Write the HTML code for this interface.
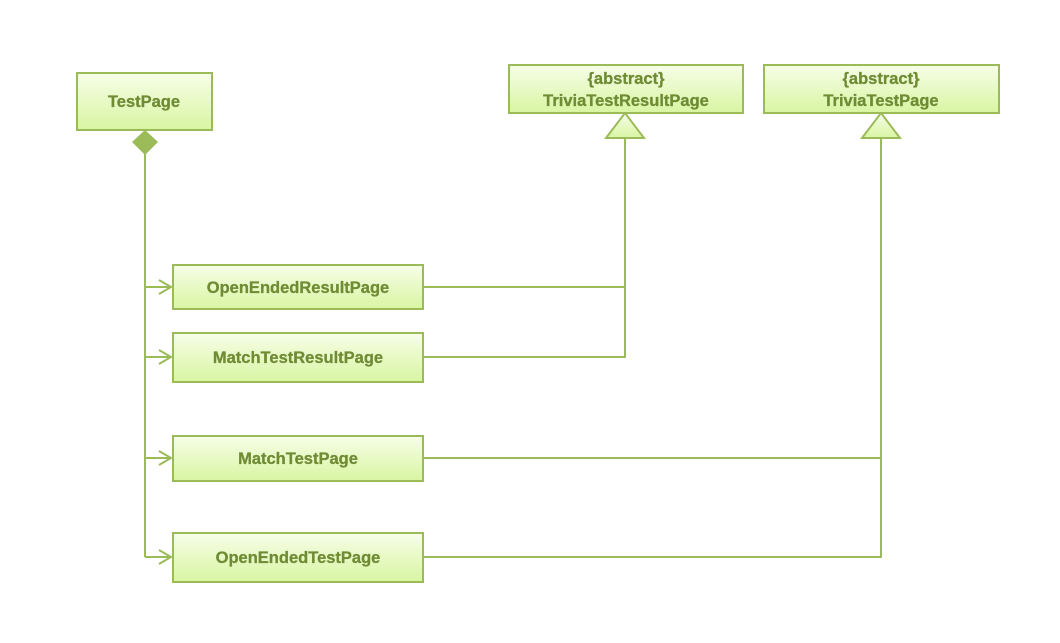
<!DOCTYPE html>
<html><head><style>
body{margin:0;background:#fff;}
svg text{font-family:"Liberation Sans",sans-serif;font-weight:bold;fill:#6f8c35;text-anchor:middle;}
</style></head><body>
<svg width="1060" height="638" xmlns="http://www.w3.org/2000/svg">
<defs>
<linearGradient id="g" x1="0" y1="0" x2="0" y2="1">
<stop offset="0" stop-color="#f7fee8"/><stop offset="1" stop-color="#d8f5a2"/>
</linearGradient>
</defs>
<g stroke="#9bbb59" stroke-width="2" fill="none">
<line x1="145" y1="154" x2="145" y2="557"/>
<path d="M145 287H171M159 280L171 287L159 294"/>
<path d="M145 357H171M159 350L171 357L159 364"/>
<path d="M145 458H171M159 451L171 458L159 465"/>
<path d="M145 557H171M159 550L171 557L159 564"/>
<path d="M423 287H625M423 357H625V138"/>
<path d="M423 458H881M423 557H881V138"/>
</g>
<polygon points="145,130 158,142 145,155 132,142" fill="#9bbb59"/>
<polygon points="625,113 644,138 606,138" fill="url(#g)" stroke="#9bbb59" stroke-width="2"/>
<polygon points="881,113 900,138 862,138" fill="url(#g)" stroke="#9bbb59" stroke-width="2"/>
<g fill="url(#g)" stroke="#9bbb59" stroke-width="2">
<rect x="77" y="73" width="135" height="57"/>
<rect x="509" y="65" width="234" height="48"/>
<rect x="764" y="65" width="235" height="48"/>
<rect x="173" y="265" width="250" height="44"/>
<rect x="173" y="333" width="250" height="49"/>
<rect x="173" y="436" width="250" height="45"/>
<rect x="173" y="533" width="250" height="49"/>
</g>
<g font-size="16.5" stroke="#6f8c35" stroke-width="0.3">
<text x="144" y="107">TestPage</text>
<text x="626" y="84">{abstract}</text>
<text x="626" y="106">TriviaTestResultPage</text>
<text x="881" y="84">{abstract}</text>
<text x="881" y="106">TriviaTestPage</text>
<text x="298" y="293">OpenEndedResultPage</text>
<text x="298" y="363">MatchTestResultPage</text>
<text x="298" y="464">MatchTestPage</text>
<text x="298" y="563">OpenEndedTestPage</text>
</g>
</svg>
</body></html>
